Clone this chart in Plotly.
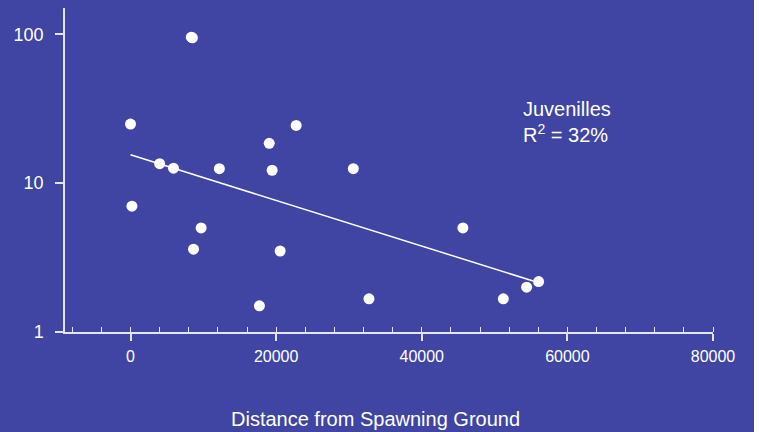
import plotly.graph_objects as go

# Juvenile counts versus distance from the spawning ground
distance = [0, 190, 4000, 5900, 8350, 8500, 12200, 9700, 8650, 17700, 20550,
            19050, 19450, 22750, 30600, 32750, 45650, 51200, 54400, 56050]
juveniles = [24.9, 7.0, 13.5, 12.6, 95.5, 94.5, 12.5, 5.0, 3.6, 1.5, 3.5,
             18.5, 12.2, 24.4, 12.5, 1.67, 5.0, 1.67, 2.0, 2.18]

# Fitted exponential trend (straight on the log axis), end points
trend_x = [0, 55300]
trend_y = [15.5, 2.2]

x_ticks = [0, 20000, 40000, 60000, 80000]
x_tick_labels = ["0", "20000", "40000", "60000", "80000"]
y_ticks = [1, 10, 100]
y_tick_labels = ["1", "10", "100"]

bg = "rgb(64,69,163)"
axis_col = "#e4e4ee"
font = "Liberation Sans, Arial, sans-serif"

fig = go.Figure()
fig.add_trace(go.Scatter(
    x=trend_x, y=trend_y, mode="lines",
    line=dict(color="white", width=1.5), hoverinfo="skip"))
fig.add_trace(go.Scatter(
    x=distance, y=juveniles, mode="markers",
    marker=dict(color="white", size=11, line=dict(width=0))))

fig.add_annotation(
    x=53600, y=1.582, xref="x", yref="y", xanchor="left", yanchor="top",
    align="left", showarrow=False,
    text="Juvenilles<br>R<sup>2</sup> = 32%",
    font=dict(family=font, size=20, color="white"))

# x-axis title, centred on the page rather than the plot area
fig.add_annotation(
    x=0.479, y=-0.267, xref="paper", yref="paper",
    xanchor="center", yanchor="middle", showarrow=False,
    text="Distance from Spawning Ground",
    font=dict(family=font, size=20, color="white"))

fig.update_layout(
    width=754, height=432,
    margin=dict(l=65, r=41, t=8, b=100),
    paper_bgcolor=bg, plot_bgcolor=bg,
    showlegend=False,
    font=dict(family=font, color="white"),
    xaxis=dict(
        range=[-9000, 80000], tickvals=x_ticks, ticktext=x_tick_labels,
        showgrid=False, zeroline=False,
        showline=True, linecolor=axis_col, linewidth=1.5,
        ticks="outside", ticklen=7, tickwidth=1.5, tickcolor=axis_col,
        tickfont=dict(size=16, color="white"), ticklabelstandoff=2,
        minor=dict(ticks="inside", dtick=4000, tick0=0, ticklen=5,
                   tickwidth=1.2, tickcolor=axis_col, showgrid=False),
    ),
    yaxis=dict(
        type="log", range=[0, 2.176], tickvals=y_ticks,
        ticktext=y_tick_labels,
        showgrid=False, zeroline=False,
        showline=True, linecolor=axis_col, linewidth=1.5,
        ticks="outside", ticklen=8, tickwidth=1.5, tickcolor=axis_col,
        tickfont=dict(size=18, color="white"), ticklabelstandoff=8,
    ),
)

fig.write_html("out.html")
